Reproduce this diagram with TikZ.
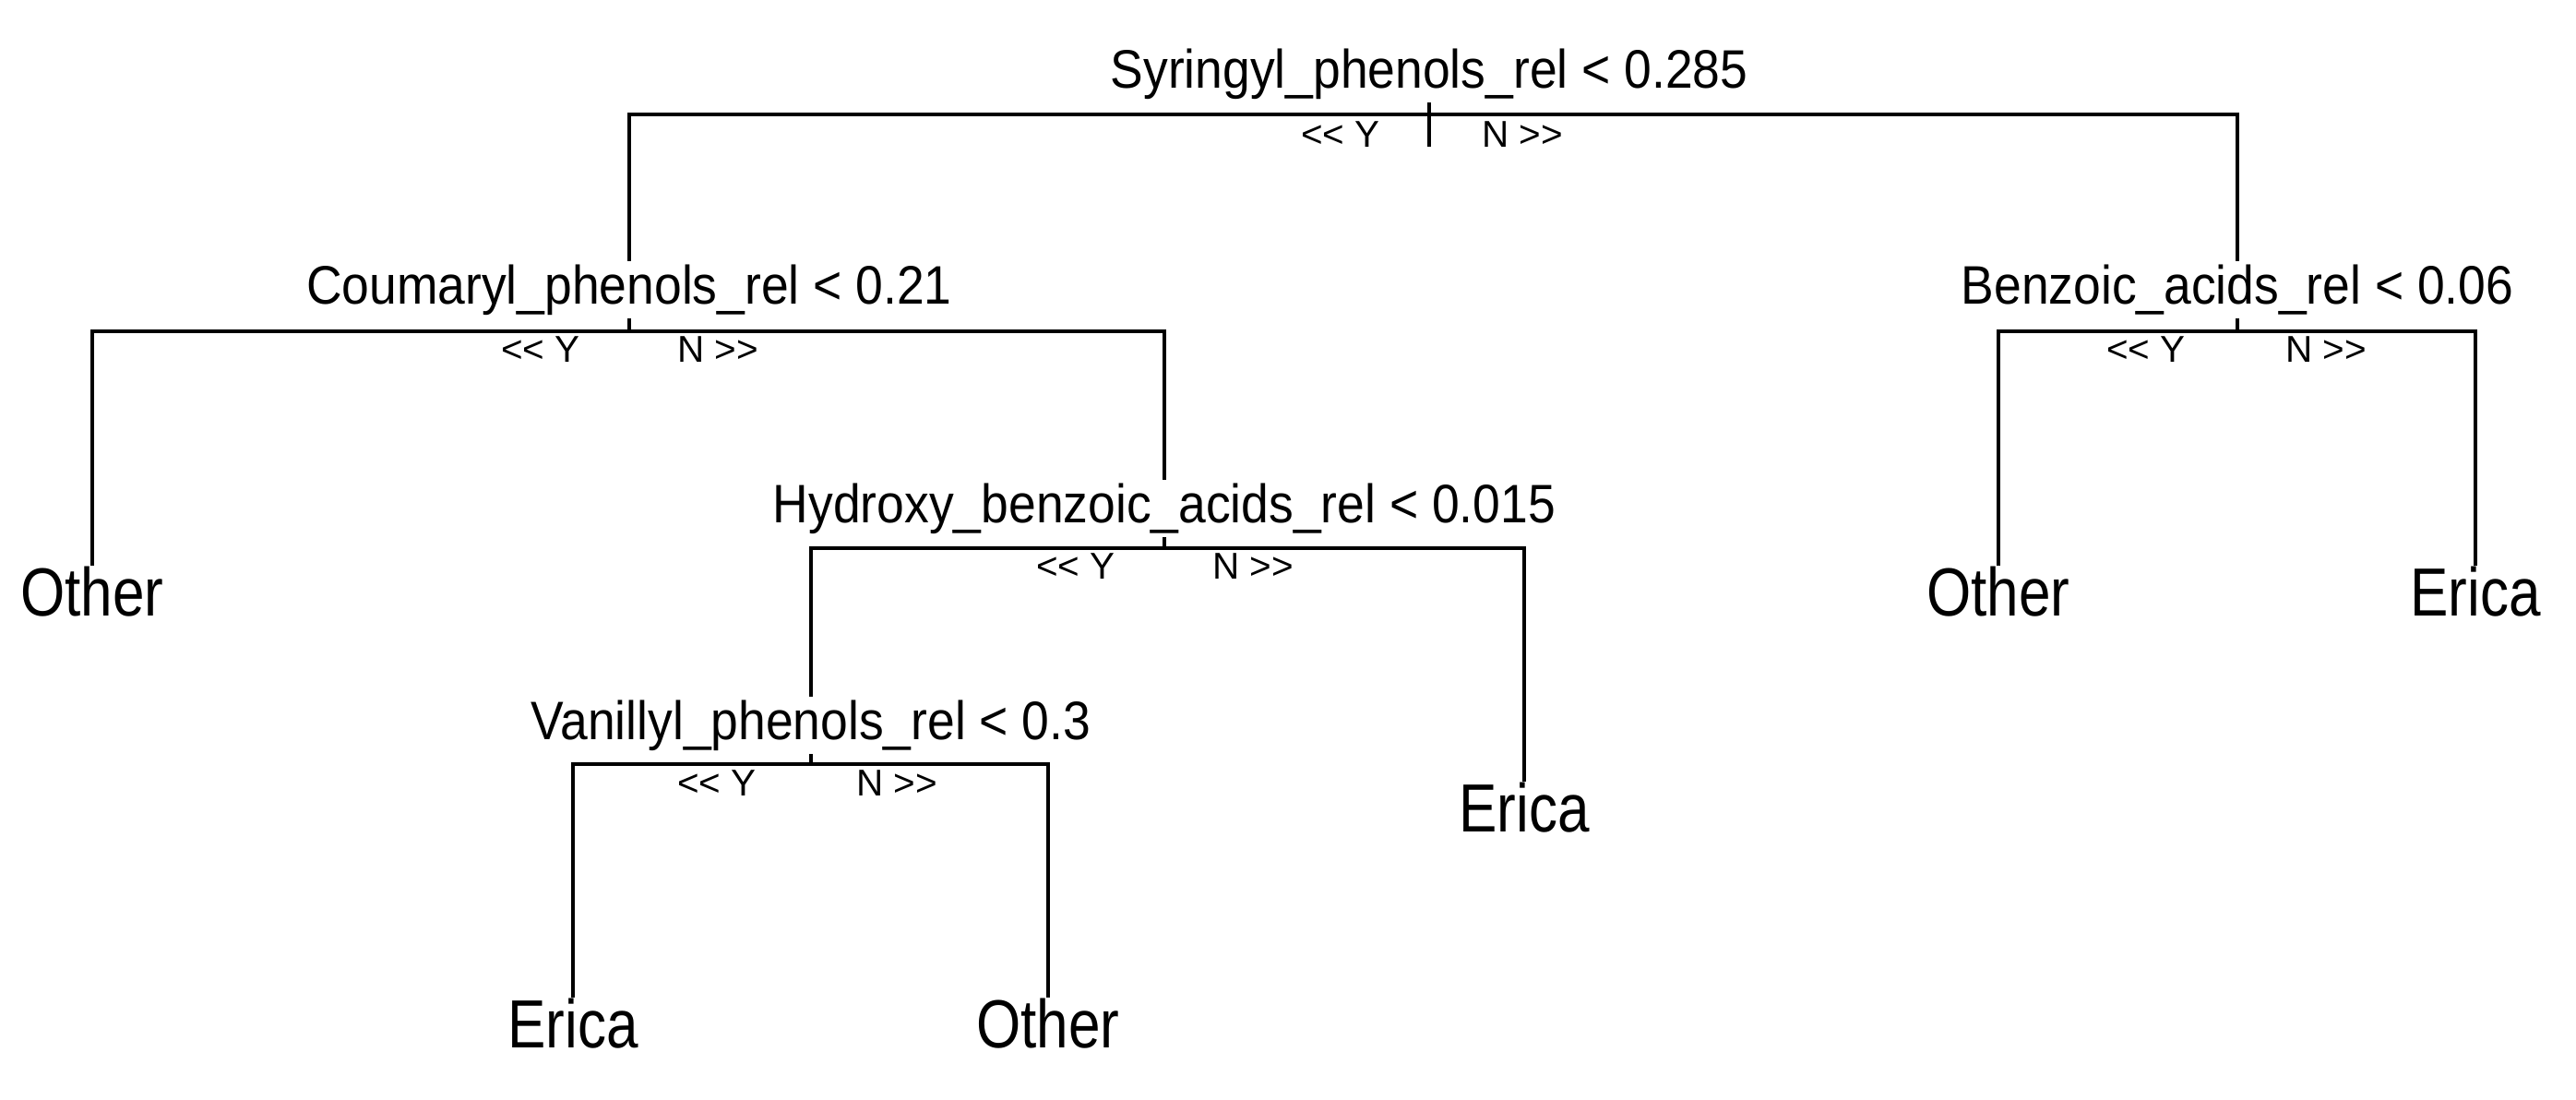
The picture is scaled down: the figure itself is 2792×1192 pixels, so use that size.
\documentclass[tikz,border=0pt]{standalone}
\usepackage{fontspec}
\setmainfont{Liberation Sans}
\usepackage{graphicx}
\newcommand{\splt}[1]{\scalebox{0.91}[1]{\fontsize{16.7}{17}\selectfont #1}}
\newcommand{\leafl}[1]{\scalebox{0.84}[1]{\fontsize{21}{22}\selectfont #1}}
\newcommand{\yn}[1]{\scalebox{1.0}[1]{\fontsize{11.5}{12}\selectfont #1}}
\begin{document}
\begin{tikzpicture}[x=0.01cm,y=-0.01cm,
  br/.style={line width=1pt},
  sp/.style={fill=white,inner sep=1pt},
  lf/.style={inner sep=0pt},
  lb/.style={inner sep=0pt}]
\useasboundingbox (0,0) rectangle (2792,1192);
% junction coordinates
\coordinate (j1) at (1549,124);
\coordinate (j2) at (682,359);
\coordinate (j3) at (2425,359);
\coordinate (j4) at (1262,594);
\coordinate (j5) at (879,828);
\coordinate (t1a) at (1549,111);
\coordinate (t1b) at (1549,159);
% leaves
\node[lf] (l1) at (100,641) {\leafl{Other}};
\node[lf] (l2) at (621,1109) {\leafl{Erica}};
\node[lf] (l3) at (1136,1109) {\leafl{Other}};
\node[lf] (l4) at (1652,875) {\leafl{Erica}};
\node[lf] (l5) at (2166,641) {\leafl{Other}};
\node[lf] (l6) at (2683,641) {\leafl{Erica}};
% branches (drawn before split labels so labels mask them)
\draw[br] (t1a) -- (t1b);
\draw[br] (j1) -| (j2);
\draw[br] (j1) -| (j3);
\draw[br] (j2) -| (l1.north);
\draw[br] (j2) -| (j4);
\draw[br] (j3) -| (l5.north);
\draw[br] (j3) -| (l6.north);
\draw[br] (j4) -| (j5);
\draw[br] (j4) -| (l4.north);
\draw[br] (j5) -| (l2.north);
\draw[br] (j5) -| (l3.north);
% split nodes
\node[sp] (s1) at (1549,80) {\splt{Syringyl\_phenols\_rel < 0.285}};
\node[sp] (s2) at (682,314) {\splt{Coumaryl\_phenols\_rel < 0.21}};
\node[sp] (s3) at (2425,314) {\splt{Benzoic\_acids\_rel < 0.06}};
\node[sp] (s4) at (1262,551) {\splt{Hydroxy\_benzoic\_acids\_rel < 0.015}};
\node[sp] (s5) at (879,786) {\splt{Vanillyl\_phenols\_rel < 0.3}};
% Y/N labels
\node[lb] (y1) at (1453,146) {\yn{{<}{<} Y}};
\node[lb] (n1) at (1650,146) {\yn{N {>}{>}}};
\node[lb] (y2) at (586,379) {\yn{{<}{<} Y}};
\node[lb] (n2) at (778,379) {\yn{N {>}{>}}};
\node[lb] (y3) at (2326,379) {\yn{{<}{<} Y}};
\node[lb] (n3) at (2521,379) {\yn{N {>}{>}}};
\node[lb] (y4) at (1166,614) {\yn{{<}{<} Y}};
\node[lb] (n4) at (1358,614) {\yn{N {>}{>}}};
\node[lb] (y5) at (777,849) {\yn{{<}{<} Y}};
\node[lb] (n5) at (972,849) {\yn{N {>}{>}}};
\end{tikzpicture}
\end{document}
